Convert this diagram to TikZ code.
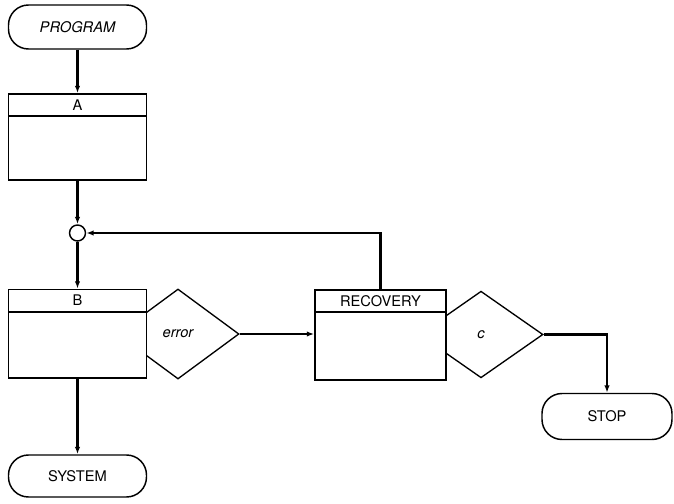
\documentclass[tikz,border=0pt]{standalone}
\usepackage{fontspec}
\setmainfont{TeX Gyre Heros}
\usetikzlibrary{arrows.meta,shapes.geometric}
\begin{document}
\begin{tikzpicture}[x=0.75pt,y=-0.75pt,
  font=\fontsize{11}{13}\selectfont,
  terminal/.style={draw,line width=1.1pt,rounded corners=15pt,minimum width=103.5pt,
    minimum height=33pt,inner sep=0pt,fill=white},
  header/.style={draw,line width=1.2pt,fill=white,minimum height=16.5pt,inner sep=0pt},
  body/.style={draw,line width=1.2pt,fill=white,inner sep=0pt},
  decision/.style={draw,diamond,line width=1pt,inner sep=0pt},
  flow/.style={line width=1.7pt,-{Latex[length=5.5pt,width=4pt]}},
  joint/.style={draw,circle,line width=1.1pt,minimum size=12pt,inner sep=0pt,fill=white}]
\useasboundingbox (0,0) rectangle (674,503);

% start and first block
\node[terminal] (program) at (77.5,27) {\itshape PROGRAM};
\node[header,minimum width=103.5pt] (ahead) at (77.5,105) {A};
\node[body,minimum width=103.5pt,minimum height=48pt] (abody) at (77.5,148) {};

% merge point
\node[joint] (junc) at (77.5,233) {};

% decisions sit behind the blocks they hang from
\node[decision,minimum width=91.5pt,minimum height=67.5pt] (err) at (178,334) {\itshape error};
\node[decision,minimum width=93pt,minimum height=65pt] (cdec) at (481,334.5) {\itshape c};

% second block
\node[header,minimum width=103.5pt] (bhead) at (77.5,300.5) {B};
\node[body,minimum width=103.5pt,minimum height=49.5pt] (bbody) at (77.5,345) {};

% recovery block
\node[header,minimum width=98.25pt] (rhead) at (380.5,301) {RECOVERY};
\node[body,minimum width=98.25pt,minimum height=51pt] (rbody) at (380.5,346) {};

% end points
\node[terminal,minimum height=31.5pt] (system) at (77.5,476) {SYSTEM};
\node[terminal,minimum width=97.5pt,minimum height=34.5pt] (stop) at (607,416.5) {STOP};

% connectors
\draw[flow] (program) -- (ahead);
\draw[flow] (abody) -- (junc);
\draw[flow] (junc) -- (bhead);
\draw[flow] (bbody) -- (system);
\draw[flow] (err.east) -- (err.east -| rbody.west);
\draw[flow] (rhead.north) |- (junc.east);
\draw[flow] (cdec.east) -| (stop.north);
\end{tikzpicture}
\end{document}
